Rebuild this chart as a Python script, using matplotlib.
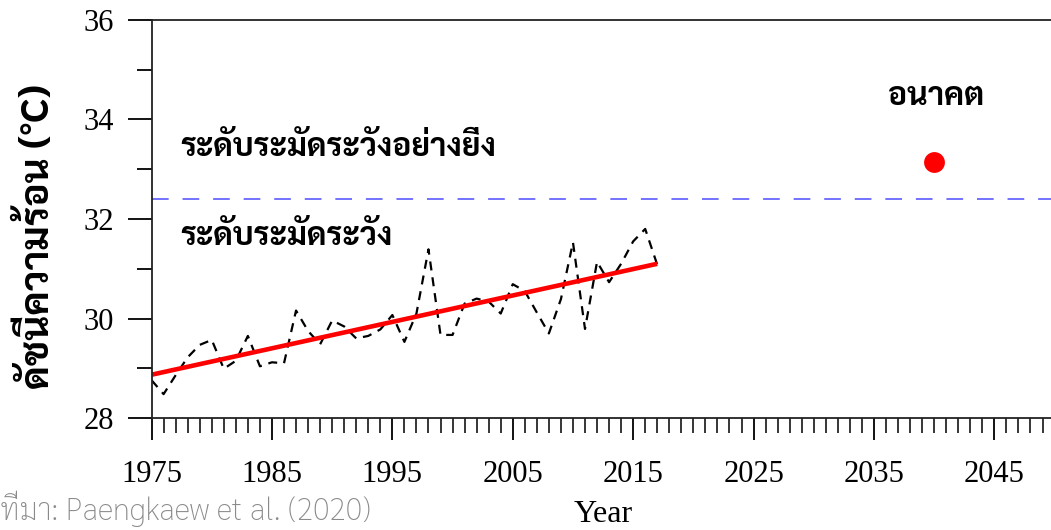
import numpy as np
import matplotlib
matplotlib.use('Agg')
import matplotlib.pyplot as plt

# annual heat index values
years = list(range(1975, 2018))
heat_index = [28.76, 28.48, 28.86, 29.22, 29.47, 29.57, 28.99, 29.15, 29.65, 29.04,
              29.12, 29.10, 30.16, 29.75, 29.48, 29.96, 29.84, 29.60, 29.65, 29.78,
              30.07, 29.53, 30.10, 31.39, 29.67, 29.67, 30.30, 30.40, 30.34, 30.10,
              30.69, 30.55, 30.12, 29.70, 30.39, 31.53, 29.79, 31.14, 30.73, 31.10,
              31.55, 31.80, 31.08]

trend_years = [1975, 2017]
trend_vals = [28.87, 31.10]

future_year = [2040]
future_val = [33.15]

warn_level = 32.4

xticks = [1975, 1985, 1995, 2005, 2015, 2025, 2035, 2045]
yticks = [28, 30, 32, 34, 36]

thai_fam = ['Sarabun', 'DejaVu Sans']

plt.rcParams['lines.scale_dashes'] = False

fig = plt.figure(figsize=(10.51, 5.30), dpi=100)
ax = fig.add_axes([0.1442, 0.2113, 0.8592, 0.7510])

ax.plot(years, heat_index, color='black', lw=1.6, dashes=(6.5, 5))
ax.plot(trend_years, trend_vals, color='red', lw=3.3, solid_capstyle='butt')
ax.axhline(warn_level, color='#5a5aff', lw=1.2, dashes=(12, 10))
ax.plot(future_year, future_val, 'o', color='red', ms=15, mec='none')

ax.set_xlim(1975, 2050)
ax.set_ylim(28, 36)
ax.set_xticks(xticks)
ax.set_xticks(range(1975, 2050), minor=True)
ax.set_yticks(yticks)
ax.set_yticks([29, 31, 33, 35], minor=True)
ax.spines['right'].set_visible(False)
for s in ax.spines.values():
    s.set_linewidth(1.3)
    s.set_color('#222222')

ax.tick_params(axis='x', which='major', direction='out', length=16, width=1.3, pad=14)
ax.tick_params(axis='x', which='minor', direction='out', length=11, width=1.1)
ax.tick_params(axis='y', which='major', direction='out', length=17, width=1.3, pad=10)
ax.tick_params(axis='y', which='minor', direction='out', length=11, width=1.3)
for lab in ax.get_xticklabels() + ax.get_yticklabels():
    lab.set_family('Liberation Serif')
    lab.set_fontsize(22)

ax.set_xlabel('Year', family='Liberation Serif', fontsize=23, labelpad=8)

fig.text(0.036, 0.553, 'ดัชนีความร้อน (°C)', rotation=90, ha='center', va='center',
         family=thai_fam, fontsize=28, fontweight='bold')

ax.text(1977.4, 33.43, 'ระดับระมัดระวังอย่างยิ่ง', family=thai_fam, fontsize=23,
        fontweight='bold', va='center')
ax.text(1977.4, 31.64, 'ระดับระมัดระวัง', family=thai_fam, fontsize=23,
        fontweight='bold', va='center')
ax.text(2036.2, 34.45, 'อนาคต', family=thai_fam, fontsize=23,
        fontweight='bold', va='center')

fig.text(0.0, 0.018, 'ที่มา: Paengkaew et al. (2020)', family=thai_fam, fontsize=22,
         fontweight='light', color='#8a8a8a', ha='left', va='baseline')

fig.savefig('out.png', dpi=100)
